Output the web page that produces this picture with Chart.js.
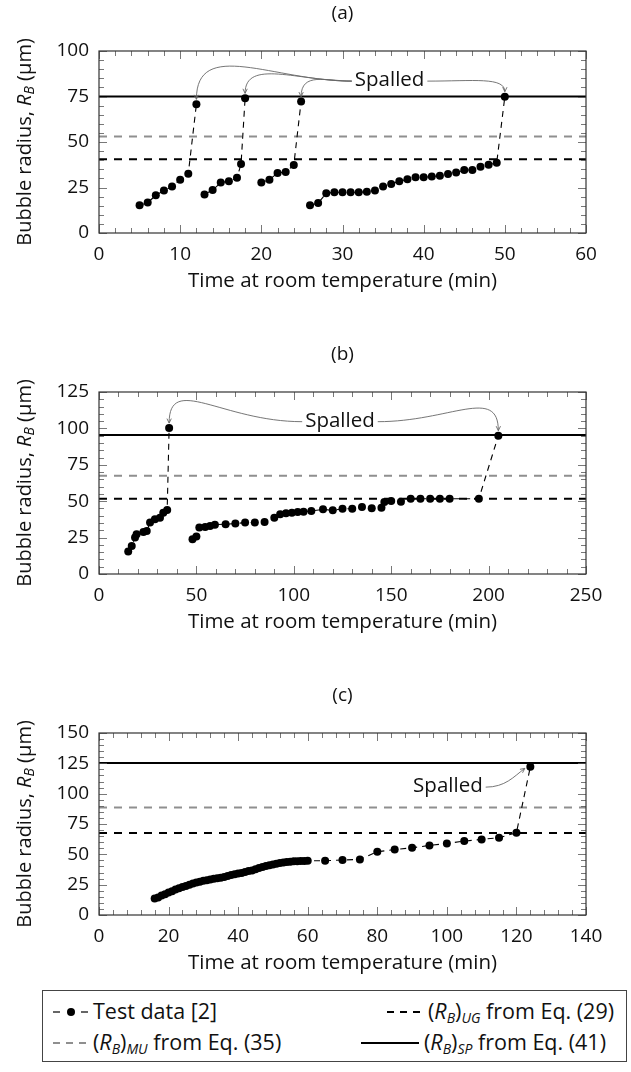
<!DOCTYPE html>
<html><head><meta charset="utf-8">
<script src="https://cdn.jsdelivr.net/npm/chart.js@4.4.0/dist/chart.umd.min.js"></script>
<style>
html,body{margin:0;padding:0;background:#fff;}
#wrap{position:relative;width:631px;height:1072px;overflow:hidden;font-family:'Open Sans',sans-serif;color:#111;}
canvas.cv{position:absolute;left:0;}
#legend{position:absolute;left:42px;top:990px;width:585px;height:72px;border:1.2px solid #444;box-sizing:border-box;font-size:21.5px;}
#legend .it{position:absolute;white-space:nowrap;line-height:22px;}
#legend svg{position:absolute;}
#legend sub{font-size:14px;vertical-align:-4px;line-height:0;}
</style></head>
<body>
<div id="wrap">
<canvas id="cA" class="cv" width="631" height="300" style="top:0px"></canvas>
<canvas id="cB" class="cv" width="631" height="300" style="top:341px"></canvas>
<canvas id="cC" class="cv" width="631" height="300" style="top:682px"></canvas>
<div id="legend">
  <svg style="left:8px;top:12px" width="40" height="18"><line x1="2" y1="9" x2="9" y2="9" stroke="#000" stroke-width="1.2"/><circle cx="20" cy="9" r="4" fill="#000"/><line x1="30" y1="9" x2="37" y2="9" stroke="#000" stroke-width="1.2"/></svg>
  <div class="it" style="left:50px;top:9px">Test data [2]</div>
  <svg style="left:344px;top:12px" width="36" height="18"><line x1="0" y1="9" x2="34" y2="9" stroke="#000" stroke-width="2" stroke-dasharray="7,6"/></svg>
  <div class="it" style="left:385px;top:9px">(<i>R</i><sub><i>B</i></sub>)<sub><i>UG</i></sub> from Eq. (29)</div>
  <svg style="left:8px;top:43px" width="40" height="18"><line x1="2" y1="9" x2="38" y2="9" stroke="#8f8f8f" stroke-width="2" stroke-dasharray="7,6"/></svg>
  <div class="it" style="left:50px;top:40px">(<i>R</i><sub><i>B</i></sub>)<sub><i>MU</i></sub> from Eq. (35)</div>
  <svg style="left:318px;top:43px" width="60" height="18"><line x1="0" y1="9" x2="58" y2="9" stroke="#000" stroke-width="2"/></svg>
  <div class="it" style="left:381px;top:40px">(<i>R</i><sub><i>B</i></sub>)<sub><i>SP</i></sub> from Eq. (41)</div>
</div>
</div>
<script>
// ---------- data ----------
const timeA   = [5,6,7,8,9,10,11,12, null, 13,14,15,16,17,17.5,18, null, 20,21,22,23,24,24.9, null,
                 26,27,28,29,30,31,32,33,34,35,36,37,38,39,40,41,42,43,44,45,46,47,48,49,50];
const radiusA = [15.2,16.7,20.7,23.4,25.5,29.3,32.6,70.7, null, 21.2,23.6,27.7,28.4,30.4,37.9,74.0, null, 27.7,29.3,33.0,33.5,37.4,72.2, null,
                 15.2,16.5,21.8,22.4,22.4,22.4,22.4,22.6,23.3,25.5,26.9,28.4,29.5,30.6,30.6,31.0,31.5,32.4,33.2,34.6,34.6,36.4,37.5,38.6,74.9];

const timeB   = [15,16.8,18.5,19.3,22.8,24.5,26.2,28.7,31.3,33,35,36, null,
                 48,50,51.5,54.5,57,59.5,65,70,75,80,85,90,93,96,99,102,105,109,115,120,125,130,135,140,145,146.5,150,155,160,165,170,175,180,195,205];
const radiusB = [15.5,19.3,25,27.3,28.9,29.6,35.3,37.6,38.7,42.1,43.9,100.2, null,
                 23.9,25.7,31.9,32.3,33,33.9,34.2,34.6,35.3,35.3,35.7,38.7,41,41.7,42.1,42.6,42.8,43.3,44.4,43.7,44.8,44.8,46,45.1,45.5,49.4,50.1,49.7,51.7,51.7,51.7,51.7,51.7,51.7,95];

const timeC   = [16,17,18,19,20,21,22,23,24,25,26,27,28,29,30,31,32,33,34,35,36,37,38,39,40,41,42,43,44,45,46,47,48,49,50,
                 51,52,53,54,55,56,57,58,59,60,65,70,75,80,85,90,95,100,105,110,115,120,124];
const radiusC = [13.5,14.5,16,17,18.5,19.5,21,22,23,24,25,26,26.8,27.5,28.2,28.6,29.2,29.8,30.3,30.8,31.3,32.2,33,33.6,34.2,34.7,35.4,36.2,36.6,37.8,38.8,39.6,40.3,41,41.6,
                 42.2,42.8,43.2,43.6,43.9,44.2,44.4,44.5,44.6,44.7,44.7,45.3,45.8,52.1,54,55.4,57.3,59,60.9,62.3,63.7,67.8,122.1];

const ugLevels = [40.5, 51.7, 67.5];   // (R_B)_UG
const muLevels = [53, 67.4, 88.6];     // (R_B)_MU
const spLevels = [75, 95.5, 125.3];    // (R_B)_SP

const panelTitles = ['(a)', '(b)', '(c)'];
const xMaxes = [60, 250, 140];
const xSteps = [10, 50, 20];
const yMaxes = [100, 125, 150];
const ySteps = [25, 25, 25];
const xTitle = 'Time at room temperature (min)';

// "Spalled" label anchor in data units, per panel
const spallLabelX = [35.8, 123.7, 100.3];
const spallLabelY = [84, 105.3, 106.2];

// ---------- helpers ----------
const FONT = "'Open Sans', sans-serif";
function runs(xs, ys) {
  const out = []; let cur = [];
  xs.forEach((x, i) => {
    if (x === null || ys[i] === null) { if (cur.length) out.push(cur); cur = []; }
    else cur.push({x: x, y: ys[i]});
  });
  if (cur.length) out.push(cur);
  return out;
}
function lastPoints(xs, ys) {
  return runs(xs, ys).map(r => r[r.length - 1]);
}

const framePlugin = {
  id: 'frame',
  afterDatasetsDraw(chart, args, o) {
    const {ctx, chartArea: a, scales: {x, y}} = chart;
    ctx.save();
    ctx.strokeStyle = '#555'; ctx.lineWidth = 0.8;
    const seg = (x1, y1, x2, y2) => { ctx.beginPath(); ctx.moveTo(x1, y1); ctx.lineTo(x2, y2); ctx.stroke(); };
    const isMajor = (v, s) => Math.abs(v / s - Math.round(v / s)) < 1e-6;
    for (let v = x.min; v <= x.max + 1e-9; v += o.xMinor) {
      const p = Math.round(x.getPixelForValue(v)) + 0.5;
      const L = isMajor(v, o.xMajor) ? 8 : 5;
      seg(p, a.bottom, p, a.bottom - L); seg(p, a.top, p, a.top + L);
    }
    for (let v = y.min; v <= y.max + 1e-9; v += o.yMinor) {
      const p = Math.round(y.getPixelForValue(v)) + 0.5;
      const L = isMajor(v, o.yMajor) ? 8 : 5;
      seg(a.left, p, a.left + L, p); seg(a.right, p, a.right - L, p);
    }
    ctx.strokeStyle = '#333'; ctx.lineWidth = 1.2;
    ctx.strokeRect(a.left, a.top, a.right - a.left, a.bottom - a.top);

    ctx.fillStyle = '#111';
    ctx.font = '19px ' + FONT; ctx.textAlign = 'center'; ctx.textBaseline = 'middle';
    ctx.fillText(o.title, (a.left + a.right) / 2, 14);

    const parts = [
      {t: 'Bubble radius, ', f: '20px ' + FONT, dy: 0},
      {t: 'R', f: 'italic 20px ' + FONT, dy: 0},
      {t: 'B', f: 'italic 14px ' + FONT, dy: 5},
      {t: ' (\u03BCm)', f: '20px ' + FONT, dy: 0}
    ];
    let total = 0;
    parts.forEach(p => { ctx.font = p.f; p.w = ctx.measureText(p.t).width; total += p.w; });
    ctx.translate(25, (a.top + a.bottom) / 2);
    ctx.rotate(-Math.PI / 2);
    ctx.textAlign = 'left'; ctx.textBaseline = 'middle';
    let cx = -total / 2;
    parts.forEach(p => { ctx.font = p.f; ctx.fillText(p.t, cx, p.dy); cx += p.w; });
    ctx.restore();

    ctx.save();
    ctx.font = '20.5px ' + FONT; ctx.fillStyle = '#111';
    ctx.textAlign = 'center'; ctx.textBaseline = 'middle';
    const lx = x.getPixelForValue(o.spall.x), ly = y.getPixelForValue(o.spall.y);
    ctx.fillText('Spalled', lx, ly);
    const w = ctx.measureText('Spalled').width;
    ctx.strokeStyle = '#666'; ctx.lineWidth = 0.9;
    o.spall.arrows.forEach(ar => {
      const tx = x.getPixelForValue(ar.to.x), ty = y.getPixelForValue(ar.to.y);
      const sx = lx + ar.side * (w / 2 + 3), sy = ly + 1;
      let ex, ey, dx, dy;
      if (ar.mode === 'top') { ex = tx; ey = ty - 5; dx = 0; dy = 1; }
      else { ex = tx - 5.5; ey = ty + 1.5; dx = 0.8; dy = -0.6; }
      const p1x = sx + ar.side * ar.k * Math.abs(ex - sx), p1y = sy;
      const p2x = ex - dx * ar.lift, p2y = ey - dy * ar.lift;
      ctx.beginPath(); ctx.moveTo(sx, sy);
      ctx.bezierCurveTo(p1x, p1y, p2x, p2y, ex, ey); ctx.stroke();
      const hl = 5, ang = 0.45, base = Math.atan2(dy, dx);
      ctx.beginPath();
      ctx.moveTo(ex - hl * Math.cos(base - ang), ey - hl * Math.sin(base - ang));
      ctx.lineTo(ex, ey);
      ctx.lineTo(ex - hl * Math.cos(base + ang), ey - hl * Math.sin(base + ang));
      ctx.stroke();
    });
    ctx.restore();
  }
};

function makeChart(id, idx, xs, ys, arrowsSpec, xMinor, yMinor) {
  const datasets = [];
  runs(xs, ys).forEach(r => datasets.push({
    data: r, showLine: true, borderColor: '#000', borderWidth: 1.1, borderDash: [6, 5],
    pointRadius: 4, pointHoverRadius: 4, pointBackgroundColor: '#000', pointBorderWidth: 0
  }));
  const xMax = xMaxes[idx];
  const hline = (v, color, dash) => ({
    data: [{x: 0, y: v}, {x: xMax, y: v}], showLine: true, borderColor: color,
    borderWidth: 2, borderDash: dash, pointRadius: 0
  });
  datasets.push(hline(spLevels[idx], '#000', []));
  datasets.push(hline(ugLevels[idx], '#000', [8, 7]));
  datasets.push(hline(muLevels[idx], '#8f8f8f', [8, 7]));

  const tickFont = {family: FONT, size: 19};
  return new Chart(document.getElementById(id), {
    type: 'scatter',
    data: {datasets},
    plugins: [framePlugin],
    options: {
      responsive: false, animation: false, devicePixelRatio: 1,
      layout: {padding: {left: 0, right: 45, top: 51, bottom: 0}},
      plugins: {
        legend: {display: false}, tooltip: {enabled: false},
        frame: {
          title: panelTitles[idx], xMinor, xMajor: xSteps[idx], yMinor, yMajor: ySteps[idx],
          spall: {x: spallLabelX[idx], y: spallLabelY[idx], arrows: arrowsSpec}
        }
      },
      scales: {
        x: {
          type: 'linear', min: 0, max: xMax,
          grid: {display: false, drawTicks: false}, border: {display: false},
          ticks: {stepSize: xSteps[idx], font: tickFont, color: '#111', padding: 10, maxRotation: 0, autoSkip: false},
          title: {display: true, text: xTitle, font: {family: FONT, size: 20.5}, color: '#111', padding: {top: 0, bottom: 7}},
          afterFit: s => { s.height = 67; }
        },
        y: {
          type: 'linear', min: 0, max: yMaxes[idx],
          grid: {display: false, drawTicks: false}, border: {display: false},
          ticks: {stepSize: ySteps[idx], font: tickFont, color: '#111', padding: 10},
          afterFit: s => { s.width = 99; }
        }
      }
    }
  });
}

const endsA = lastPoints(timeA, radiusA);
const endsB = lastPoints(timeB, radiusB);
const endsC = lastPoints(timeC, radiusC);

makeChart('cA', 0, timeA, radiusA, [
  {to: endsA[0], side: -1, k: 0.5, lift: 62, mode: 'top'},
  {to: endsA[1], side: -1, k: 0.5, lift: 35, mode: 'top'},
  {to: endsA[2], side: -1, k: 0.5, lift: 25, mode: 'top'},
  {to: endsA[3], side: 1, k: 0.6, lift: 15, mode: 'top'}
], 2, 5);
makeChart('cB', 1, timeB, radiusB, [
  {to: endsB[0], side: -1, k: 0.6, lift: 50, mode: 'top'},
  {to: endsB[1], side: 1, k: 0.6, lift: 45, mode: 'top'}
], 10, 5);
makeChart('cC', 2, timeC, radiusC, [
  {to: endsC[0], side: 1, k: 0.5, lift: 14, mode: 'left'}
], 4, 5);
</script>
</body></html>
